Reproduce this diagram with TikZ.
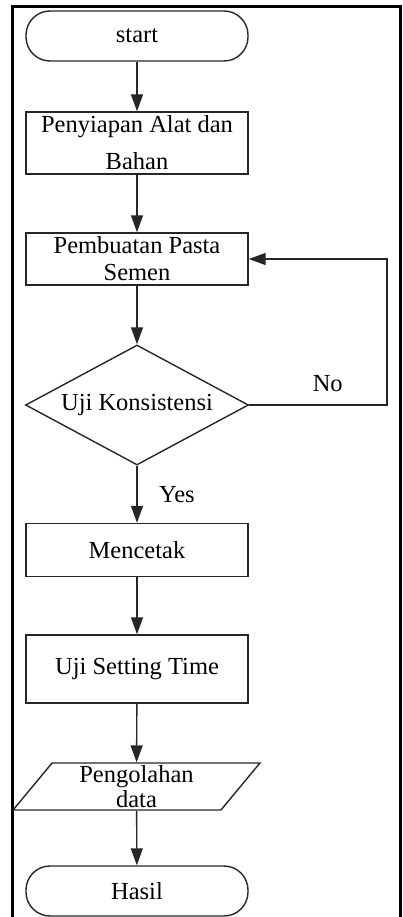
\documentclass[tikz,border=0pt]{standalone}
\usepackage{fontspec}
\setmainfont{Liberation Serif}
\usetikzlibrary{arrows.meta,shapes.geometric}

\begin{document}
\begin{tikzpicture}[x=1pt, y=-1pt,
	flow/.style={font=\fontsize{24.5}{35}\selectfont, align=center, line width=1.4pt, draw=black!85},
	box/.style={flow, rectangle, minimum width=222pt},
	terminal/.style={flow, rectangle, rounded corners=24pt, minimum width=222pt, minimum height=50pt},
	arrow/.style={-{Triangle[width=12pt,length=17pt]}, line width=1.4pt, draw=black!85}]
	\useasboundingbox (0,0) rectangle (402,917);

	% Frame
	\draw[line width=3pt] (12,925) |- (400,7) -- (400,925);

	% Start
	\node[terminal] (start) at (137,36) {start};

	% Preparation
	\node[box, minimum height=62pt, font=\fontsize{24.5}{37}\selectfont] (siap) at (137,143) {Penyiapan Alat dan\\Bahan};
	\draw[arrow] (start) -- (siap);

	% Paste
	\node[box, minimum height=52pt, inner sep=0pt, font=\fontsize{24.5}{27}\selectfont] (pasta) at (137,259) {Pembuatan Pasta\\Semen};
	\draw[arrow] (siap) -- (pasta);

	% Consistency test
	\node[flow, diamond, aspect=1.86, minimum width=223pt, minimum height=120pt, inner sep=0pt] (uji) at (137,405) {Uji Konsistensi};
	\draw[arrow] (pasta) -- (uji);
	\coordinate (balik) at (387,405);
	\draw[arrow] (uji.east) -- node[flow, draw=none, above=9pt, pos=0.57] (no) {No} (balik) |- (pasta.east);

	% Casting
	\node[box, minimum height=53pt] (cetak) at (137,550) {Mencetak};
	\draw[arrow] (uji.south) -- node[flow, draw=none, right=18pt] (yes) {Yes} (cetak);

	% Setting time
	\node[box, minimum height=68pt] (setting) at (137,669) {Uji Setting Time};
	\draw[arrow] (cetak) -- (setting);

	% Data
	\node[flow, trapezium, trapezium left angle=58, trapezium right angle=122, trapezium stretches=true, minimum width=247pt, minimum height=47pt, inner sep=0pt, font=\fontsize{24.5}{25}\selectfont] (olah) at (136.5,786.5) {Pengolahan\\data};
	\draw[arrow] (setting) -- (olah);

	% Result
	\node[terminal] (hasil) at (137,891) {Hasil};
	\draw[arrow] (olah) -- (hasil);
\end{tikzpicture}
\end{document}
